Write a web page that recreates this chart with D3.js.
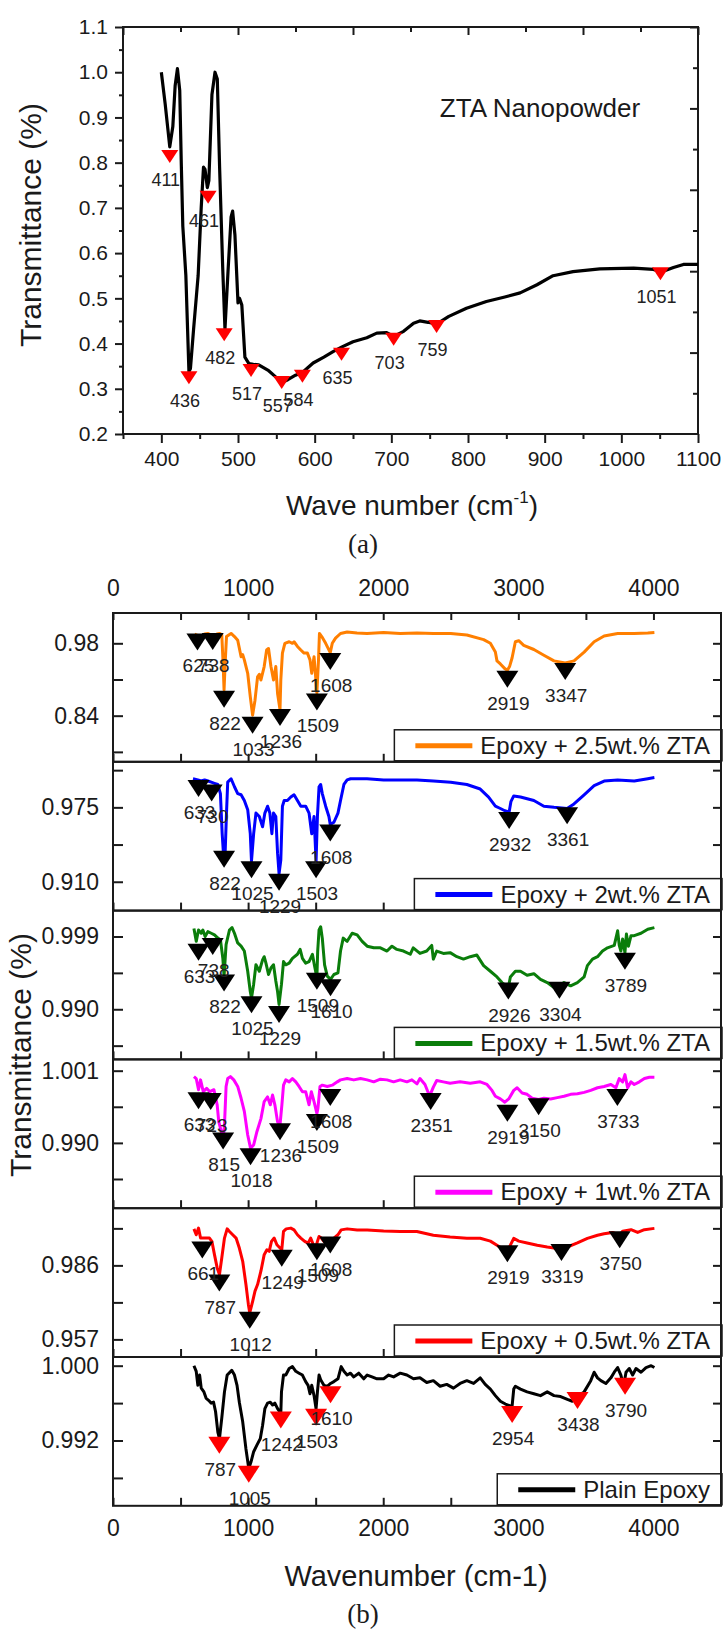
<!DOCTYPE html>
<html>
<head>
<meta charset="utf-8">
<script src="https://cdn.jsdelivr.net/npm/d3@7"></script>
<style>
  body { margin: 0; background: #fff; }
  svg { display: block; }
</style>
</head>
<body>
<svg id="chart" width="726" height="1638"></svg>
<script>
// ---------- (a) ZTA nanopowder FTIR spectrum ----------
const ztaSpectrum = [[400,1.000],[405,0.930],[411,0.835],[415,0.880],[418,0.970],[421,1.008],[424,0.960],[426,0.800],[428,0.660],[432,0.550],[436,0.338],[438,0.345],[442,0.430],[448,0.550],[452,0.700],[455,0.790],[457,0.785],[460,0.745],[462,0.760],[466,0.950],[470,1.000],[473,0.985],[476,0.790],[480,0.570],[483,0.432],[487,0.560],[491,0.680],[493,0.693],[496,0.640],[500,0.490],[502,0.500],[505,0.485],[509,0.370],[514,0.356],[520,0.354],[527,0.353],[540,0.340],[548,0.328],[557,0.314],[565,0.320],[575,0.330],[584,0.336],[598,0.357],[612,0.370],[624,0.382],[635,0.392],[650,0.404],[668,0.413],[681,0.423],[694,0.424],[703,0.416],[716,0.427],[729,0.445],[737,0.450],[748,0.447],[759,0.443],[775,0.460],[798,0.478],[824,0.493],[848,0.503],[868,0.512],[890,0.530],[911,0.550],[937,0.559],[972,0.565],[1016,0.567],[1042,0.564],[1052,0.558],[1068,0.568],[1081,0.575],[1100,0.575]];
const ztaPeaks = [[411,0.828],[436,0.339],[461,0.738],[482,0.434],[517,0.355],[557,0.328],[584,0.342],[635,0.391],[703,0.424],[759,0.452],[1051,0.569]];
const ztaXTicks = [400,500,600,700,800,900,1000,1100];
const ztaXMinor = [350,450,550,650,750,850,950,1050];
const ztaYTicks = [0.2,0.3,0.4,0.5,0.6,0.7,0.8,0.9,1.0,1.1];
const ztaYMinor = [0.25,0.35,0.45,0.55,0.65,0.75,0.85,0.95,1.05];
const ztaTopTicks = [350,500,650,800,950,1100];
const ztaTopMinor = [425,575,725,875,1025];
const ztaRightTicks = [0.38,0.56,0.74,0.92,1.10];
const ztaRightMinor = [0.29,0.47,0.65,0.83,1.01];

// ---------- (b) epoxy composites ----------
const waveTicks = [0,500,1000,1500,2000,2500,3000,3500,4000];

const epoxy25 = [[604,0.998],[628,0.995],[653,0.993],[678,0.998],[702,0.999],[727,0.996],[751,0.994],[770,0.998],[788,0.999],[805,0.997],[815,0.941],[822,0.890],[830,0.941],[840,0.993],[857,0.996],[874,0.999],[899,0.993],[923,0.986],[948,0.954],[960,0.958],[972,0.948],[997,0.922],[1016,0.877],[1033,0.841],[1051,0.870],[1070,0.915],[1083,0.920],[1095,0.909],[1119,0.935],[1137,0.967],[1151,0.970],[1169,0.935],[1188,0.909],[1205,0.935],[1218,0.883],[1236,0.852],[1242,0.909],[1254,0.961],[1272,0.980],[1304,0.983],[1328,0.980],[1340,0.983],[1365,0.974],[1390,0.967],[1414,0.961],[1439,0.961],[1458,0.948],[1471,0.922],[1488,0.954],[1500,0.915],[1509,0.884],[1521,0.948],[1528,0.999],[1545,0.993],[1574,0.980],[1608,0.962],[1623,0.980],[1647,0.990],[1684,0.999],[1733,1.002],[1806,1.000],[1880,0.999],[2003,1.001],[2126,0.999],[2250,1.000],[2371,0.999],[2500,0.999],[2619,0.996],[2743,0.987],[2793,0.980],[2830,0.963],[2842,0.946],[2867,0.940],[2900,0.931],[2919,0.928],[2935,0.935],[2954,0.952],[2978,0.983],[3003,0.985],[3040,0.976],[3115,0.968],[3189,0.957],[3264,0.946],[3347,0.942],[3412,0.946],[3487,0.963],[3561,0.983],[3635,0.994],[3735,0.999],[3858,0.999],[3958,1.000],[4007,1.001]];
const epoxy25Peaks = [[625,0.999],[738,1.000],[822,0.888],[1033,0.838],[1236,0.853],[1509,0.883],[1608,0.961],[2919,0.927],[3347,0.942]];
const epoxy25YTicks = [0.77,0.84,0.91,0.98];
const epoxy25YLabels = [0.84,0.98];

const epoxy2 = [[592,1.000],[628,0.999],[653,0.998],[678,0.999],[703,0.998],[727,0.997],[751,0.996],[776,0.995],[795,0.987],[808,0.952],[820,0.930],[830,0.935],[840,0.970],[849,0.997],[874,1.000],[899,0.993],[923,0.987],[948,0.986],[972,0.981],[997,0.973],[1016,0.952],[1025,0.928],[1041,0.952],[1058,0.970],[1083,0.967],[1107,0.958],[1124,0.970],[1144,0.976],[1161,0.970],[1176,0.952],[1188,0.970],[1205,0.967],[1218,0.935],[1229,0.917],[1242,0.929],[1254,0.976],[1267,0.981],[1291,0.981],[1316,0.984],[1340,0.986],[1365,0.981],[1390,0.976],[1426,0.976],[1451,0.970],[1471,0.952],[1488,0.967],[1503,0.928],[1513,0.967],[1525,0.993],[1537,0.995],[1549,0.987],[1574,0.976],[1598,0.967],[1608,0.960],[1635,0.962],[1665,0.970],[1684,0.981],[1709,0.995],[1733,0.999],[1758,1.000],[1820,1.000],[1880,1.000],[2003,0.999],[2126,0.999],[2250,0.999],[2371,0.998],[2500,0.997],[2619,0.995],[2718,0.991],[2780,0.984],[2830,0.976],[2867,0.974],[2900,0.972],[2932,0.971],[2945,0.980],[2966,0.985],[3016,0.984],[3115,0.981],[3189,0.976],[3264,0.975],[3361,0.974],[3412,0.978],[3487,0.986],[3561,0.994],[3635,0.998],[3735,0.999],[3858,0.998],[3958,1.000],[4007,1.001]];
const epoxy2Peaks = [[633,0.999],[730,0.995],[822,0.937],[1025,0.928],[1229,0.917],[1503,0.928],[1608,0.960],[2932,0.971],[3361,0.975]];
const epoxy2YTicks = [0.910,0.9425,0.975,1.0075];
const epoxy2YLabels = [0.910,0.975];

const epoxy15 = [[599,1.0000],[616,0.9984],[633,0.9998],[653,0.9994],[665,0.9998],[682,0.9990],[702,0.9996],[727,0.9994],[751,0.9992],[776,0.9988],[795,0.9986],[813,0.9963],[822,0.9941],[837,0.9980],[862,0.9998],[881,1.0001],[899,0.9994],[923,0.9982],[948,0.9978],[972,0.9972],[997,0.9947],[1016,0.9922],[1025,0.9914],[1041,0.9931],[1058,0.9955],[1083,0.9947],[1107,0.9961],[1119,0.9965],[1132,0.9957],[1151,0.9943],[1169,0.9951],[1188,0.9955],[1205,0.9935],[1218,0.9922],[1229,0.9906],[1247,0.9931],[1262,0.9959],[1279,0.9955],[1304,0.9957],[1328,0.9963],[1365,0.9968],[1385,0.9974],[1402,0.9963],[1426,0.9957],[1451,0.9959],[1476,0.9968],[1490,0.9955],[1509,0.9939],[1515,0.9972],[1525,0.9998],[1537,1.0002],[1549,0.9988],[1566,0.9955],[1586,0.9941],[1610,0.9937],[1635,0.9943],[1665,0.9945],[1684,0.9972],[1704,0.9988],[1733,0.9984],[1770,0.9994],[1807,0.9992],[1844,0.9984],[1881,0.9978],[1930,0.9976],[1979,0.9976],[2028,0.9972],[2065,0.9978],[2101,0.9974],[2150,0.9972],[2200,0.9968],[2222,0.9976],[2272,0.9969],[2322,0.9972],[2359,0.9979],[2371,0.9962],[2396,0.9972],[2445,0.9969],[2495,0.9970],[2545,0.9965],[2594,0.9962],[2644,0.9965],[2693,0.9967],[2743,0.9954],[2793,0.9947],[2842,0.9940],[2879,0.9933],[2926,0.9927],[2941,0.9940],[2978,0.9947],[3016,0.9947],[3065,0.9942],[3115,0.9944],[3164,0.9937],[3214,0.9933],[3264,0.9927],[3304,0.9929],[3338,0.9933],[3387,0.9929],[3437,0.9933],[3487,0.9940],[3511,0.9954],[3549,0.9962],[3586,0.9965],[3623,0.9972],[3660,0.9976],[3710,0.9979],[3735,0.9997],[3747,0.9979],[3759,0.9972],[3772,0.9987],[3789,0.9970],[3800,0.9993],[3815,0.9978],[3834,0.9991],[3858,0.9991],[3908,0.9994],[3958,0.9999],[4007,1.0001]];
const epoxy15Peaks = [[633,0.9981],[738,0.9988],[822,0.9943],[1025,0.9916],[1229,0.9904],[1509,0.9945],[1610,0.9937],[2926,0.9933],[3304,0.9934],[3789,0.9970]];
const epoxy15YTicks = [0.9855,0.990,0.9945,0.999];
const epoxy15YLabels = [0.990,0.999];

const epoxy1 = [[599,1.0001],[616,0.9998],[633,0.9981],[648,0.9996],[668,0.9978],[693,0.9983],[717,0.9978],[747,0.9981],[771,0.9958],[783,0.9932],[815,0.9907],[825,0.9927],[837,0.9986],[849,0.9998],[869,1.0001],[894,0.9996],[923,0.9986],[948,0.9968],[972,0.9948],[997,0.9912],[1018,0.9892],[1041,0.9897],[1065,0.9917],[1095,0.9937],[1119,0.9963],[1144,0.9970],[1164,0.9958],[1181,0.9973],[1198,0.9958],[1218,0.9932],[1236,0.9927],[1250,0.9958],[1262,0.9988],[1279,0.9996],[1304,0.9993],[1328,0.9998],[1353,0.9993],[1377,0.9986],[1402,0.9978],[1426,0.9978],[1451,0.9958],[1468,0.9978],[1488,0.9963],[1509,0.9945],[1517,0.9953],[1532,0.9986],[1549,0.9988],[1586,0.9986],[1623,0.9988],[1660,0.9993],[1684,0.9996],[1733,0.9998],[1782,0.9996],[1832,0.9998],[1881,0.9996],[1930,0.9993],[1979,0.9997],[2028,0.9996],[2077,0.9993],[2126,0.9996],[2175,0.9993],[2212,0.9996],[2250,0.9990],[2272,0.9998],[2309,0.9989],[2334,0.9976],[2351,0.9975],[2371,0.9985],[2396,0.9995],[2445,0.9993],[2495,0.9991],[2569,0.9993],[2644,0.9991],[2718,0.9993],[2768,0.9989],[2805,0.9980],[2830,0.9971],[2867,0.9967],[2900,0.9962],[2929,0.9967],[2966,0.9980],[2991,0.9984],[3028,0.9976],[3065,0.9974],[3102,0.9968],[3150,0.9966],[3189,0.9968],[3239,0.9967],[3288,0.9969],[3338,0.9971],[3387,0.9974],[3437,0.9975],[3487,0.9977],[3536,0.9980],[3586,0.9984],[3635,0.9986],[3685,0.9989],[3722,0.9984],[3747,0.9998],[3772,0.9993],[3789,1.0004],[3809,0.9984],[3834,0.9993],[3858,0.9989],[3896,0.9993],[3933,0.9998],[3970,1.0000],[4007,1.0000]];
const epoxy1Peaks = [[633,0.9977],[723,0.9976],[815,0.9916],[1018,0.9892],[1236,0.9930],[1509,0.9944],[1608,0.9982],[2351,0.9976],[2919,0.9958],[3150,0.9968],[3733,0.9982]];
const epoxy1YTicks = [0.9845,0.990,0.9955,1.001];
const epoxy1YLabels = [0.990,1.001];

const epoxy05 = [[599,1.0003],[616,0.9980],[633,1.0006],[648,0.9967],[665,0.9967],[690,0.9967],[714,0.9967],[732,0.9954],[751,0.9902],[771,0.9850],[788,0.9824],[805,0.9889],[825,0.9967],[845,1.0003],[862,0.9993],[886,0.9980],[911,0.9967],[935,0.9928],[960,0.9876],[984,0.9785],[1002,0.9707],[1012,0.9674],[1034,0.9720],[1051,0.9759],[1070,0.9785],[1095,0.9838],[1119,0.9902],[1139,0.9921],[1156,0.9915],[1173,0.9954],[1193,0.9967],[1213,0.9941],[1249,0.9921],[1255,0.9954],[1262,0.9993],[1282,1.0003],[1316,1.0006],[1340,0.9999],[1365,0.9980],[1390,0.9967],[1419,0.9954],[1444,0.9947],[1463,0.9967],[1483,0.9941],[1500,0.9928],[1513,0.9954],[1525,0.9973],[1542,0.9967],[1561,0.9954],[1586,0.9947],[1610,0.9954],[1635,0.9967],[1665,0.9980],[1689,0.9999],[1733,1.0003],[1807,0.9999],[1881,0.9999],[2003,0.9995],[2126,0.9993],[2249,0.9993],[2371,0.9978],[2495,0.9971],[2619,0.9966],[2718,0.9966],[2793,0.9955],[2842,0.9939],[2879,0.9926],[2919,0.9917],[2941,0.9939],[2966,0.9966],[3003,0.9955],[3065,0.9948],[3140,0.9939],[3214,0.9932],[3288,0.9926],[3319,0.9921],[3363,0.9932],[3437,0.9948],[3511,0.9966],[3586,0.9978],[3635,0.9984],[3697,0.9989],[3750,0.9978],[3772,0.9994],[3834,1.0000],[3883,0.9989],[3933,1.0000],[4007,1.0005]];
const epoxy05Peaks = [[661,0.9954],[787,0.9824],[1012,0.9678],[1249,0.9921],[1509,0.9947],[1608,0.9973],[2919,0.9939],[3319,0.9944],[3750,0.9994]];
const epoxy05YTicks = [0.957,0.9715,0.986,1.0005];
const epoxy05YLabels = [0.957,0.986];

const plainEpoxy = [[599,1.0000],[616,0.9994],[628,0.9979],[641,0.9990],[653,0.9976],[673,0.9972],[690,0.9965],[707,0.9963],[727,0.9960],[744,0.9961],[759,0.9951],[776,0.9929],[788,0.9922],[805,0.9944],[825,0.9972],[845,0.9990],[879,0.9995],[899,0.9990],[918,0.9979],[935,0.9961],[960,0.9940],[984,0.9911],[1005,0.9890],[1021,0.9897],[1041,0.9908],[1065,0.9915],[1090,0.9922],[1107,0.9936],[1124,0.9954],[1144,0.9960],[1164,0.9961],[1181,0.9958],[1198,0.9960],[1218,0.9954],[1242,0.9949],[1247,0.9972],[1262,0.9990],[1279,0.9990],[1304,0.9997],[1328,0.9999],[1353,0.9994],[1377,0.9992],[1402,0.9990],[1426,0.9983],[1444,0.9979],[1458,0.9970],[1471,0.9979],[1488,0.9968],[1503,0.9954],[1513,0.9972],[1525,0.9990],[1537,0.9985],[1561,0.9979],[1586,0.9978],[1610,0.9981],[1635,0.9983],[1665,0.9986],[1689,0.9999],[1709,0.9994],[1733,0.9990],[1758,0.9992],[1782,0.9988],[1819,0.9992],[1856,0.9986],[1881,0.9990],[1917,0.9988],[1954,0.9986],[2003,0.9986],[2040,0.9990],[2077,0.9988],[2126,0.9992],[2175,0.9990],[2224,0.9986],[2272,0.9987],[2322,0.9982],[2371,0.9984],[2421,0.9978],[2470,0.9980],[2520,0.9976],[2569,0.9981],[2619,0.9984],[2669,0.9981],[2718,0.9987],[2755,0.9980],[2793,0.9975],[2830,0.9968],[2867,0.9962],[2904,0.9959],[2941,0.9957],[2954,0.9957],[2966,0.9975],[2978,0.9978],[3016,0.9975],[3065,0.9972],[3115,0.9970],[3164,0.9968],[3214,0.9972],[3264,0.9968],[3313,0.9967],[3363,0.9964],[3400,0.9962],[3437,0.9967],[3487,0.9972],[3536,0.9984],[3561,0.9993],[3586,0.9987],[3611,0.9984],[3648,0.9981],[3685,0.9987],[3710,0.9993],[3735,0.9998],[3759,0.9990],[3779,0.9978],[3797,0.9993],[3821,0.9997],[3846,0.9990],[3871,0.9997],[3908,0.9993],[3945,0.9998],[3983,1.0000],[4007,0.9998]];
const plainEpoxyPeaks = [[787,0.9924],[1005,0.9893],[1242,0.9951],[1503,0.9954],[1610,0.9978],[2954,0.9957],[3438,0.9972],[3790,0.9987]];
const plainEpoxyYTicks = [0.988,0.992,0.996,1.000];
const plainEpoxyYLabels = [0.992,1.000];

const seriesNames = ["Epoxy + 2.5wt.% ZTA","Epoxy + 2wt.% ZTA","Epoxy + 1.5wt.% ZTA","Epoxy + 1wt.% ZTA","Epoxy + 0.5wt.% ZTA","Plain Epoxy"];
const seriesColors = ["#ff7f00","#0000ff","#0a7d0a","#ff00ff","#ff0000","#000000"];
const peakColors = ["#000000","#000000","#000000","#000000","#000000","#ff0000"];

// ---------- drawing ----------
const FONT = "'Liberation Sans', Arial, Helvetica, sans-serif";
const INK = "#1a1a1a";
const svg = d3.select("#chart");

function tidy(g, fontSize) {
  g.select(".domain").remove();
  g.selectAll(".tick line").attr("stroke", INK).attr("stroke-width", 2);
  g.selectAll("text").attr("font-family", FONT).attr("font-size", fontSize).attr("fill", INK);
  g.attr("font-family", null).attr("font-size", null);
}

function triangle(x, y, w, h) {
  return `M${x - w / 2},${y}L${x + w / 2},${y}L${x},${y + h}Z`;
}

// ===== panel (a) =====
const ax = d3.scaleLinear().domain([350, 1100]).range([123, 698]);
const ay = d3.scaleLinear().domain([0.2, 1.1]).range([434, 27]);
const gA = svg.append("g");

// bottom axis (outward ticks, labelled)
gA.append("g").attr("transform", "translate(0,434)")
  .call(d3.axisBottom(ax).tickValues(ztaXTicks).tickSize(9).tickSizeOuter(0).tickPadding(8).tickFormat(d3.format("d")))
  .call(g => tidy(g, 21));
gA.append("g").attr("transform", "translate(0,434)")
  .call(d3.axisBottom(ax).tickValues(ztaXMinor).tickSize(5).tickSizeOuter(0).tickFormat(""))
  .call(g => tidy(g, 21));
// left axis (outward ticks, labelled)
gA.append("g").attr("transform", "translate(123,0)")
  .call(d3.axisLeft(ay).tickValues(ztaYTicks).tickSize(8).tickSizeOuter(0).tickPadding(7).tickFormat(d3.format(".1f")))
  .call(g => tidy(g, 21));
gA.append("g").attr("transform", "translate(123,0)")
  .call(d3.axisLeft(ay).tickValues(ztaYMinor).tickSize(4).tickSizeOuter(0).tickFormat(""))
  .call(g => tidy(g, 21));
// top axis (inward)
gA.append("g").attr("transform", "translate(0,27)")
  .call(d3.axisTop(ax).tickValues(ztaTopTicks).tickSize(-8).tickSizeOuter(0).tickFormat(""))
  .call(g => tidy(g, 21));
gA.append("g").attr("transform", "translate(0,27)")
  .call(d3.axisTop(ax).tickValues(ztaTopMinor).tickSize(-5).tickSizeOuter(0).tickFormat(""))
  .call(g => tidy(g, 21));
// right axis (inward)
gA.append("g").attr("transform", "translate(698,0)")
  .call(d3.axisRight(ay).tickValues(ztaRightTicks).tickSize(-8).tickSizeOuter(0).tickFormat(""))
  .call(g => tidy(g, 21));
gA.append("g").attr("transform", "translate(698,0)")
  .call(d3.axisRight(ay).tickValues(ztaRightMinor).tickSize(-5).tickSizeOuter(0).tickFormat(""))
  .call(g => tidy(g, 21));

gA.append("rect").attr("x", 123).attr("y", 27).attr("width", 575).attr("height", 407)
  .attr("fill", "none").attr("stroke", INK).attr("stroke-width", 2);

const lineA = d3.line().x(d => ax(d[0])).y(d => ay(d[1]));
gA.append("path").datum(ztaSpectrum).attr("d", lineA)
  .attr("fill", "none").attr("stroke", "#000").attr("stroke-width", 3.2).attr("stroke-linejoin", "round");

gA.selectAll(".pkA").data(ztaPeaks).join("path")
  .attr("d", d => triangle(ax(d[0]), ay(d[1]), 17, 13)).attr("fill", "#ff0000");
gA.selectAll(".pkAL").data(ztaPeaks).join("text")
  .attr("x", d => ax(d[0]) - 4).attr("y", d => ay(d[1]) + 36)
  .attr("text-anchor", "middle").attr("font-family", FONT).attr("font-size", 18).attr("fill", "#222")
  .text(d => d[0]);

gA.append("text").attr("x", 540).attr("y", 117).attr("text-anchor", "middle")
  .attr("font-family", FONT).attr("font-size", 26).attr("fill", INK).text("ZTA Nanopowder");

gA.append("text").attr("transform", "translate(41,225) rotate(-90)").attr("text-anchor", "middle")
  .attr("font-family", FONT).attr("font-size", 30).attr("fill", INK).text("Transmittance (%)");

const xtA = gA.append("text").attr("x", 412).attr("y", 515).attr("text-anchor", "middle")
  .attr("font-family", FONT).attr("font-size", 28).attr("fill", INK);
xtA.append("tspan").text("Wave number (cm");
xtA.append("tspan").attr("font-size", 17).attr("dy", -12).text("-1");
xtA.append("tspan").attr("dy", 12).text(")");

svg.append("text").attr("x", 363).attr("y", 553).attr("text-anchor", "middle")
  .attr("font-family", "'Liberation Serif', 'Times New Roman', serif").attr("font-size", 27).attr("fill", INK).text("(a)");

// ===== panel (b) =====
const bx = d3.scaleLinear().domain([0, 4500]).range([113, 721]);
const panelTop = 613, panelH = 148.8;
const panels = [
  { data: epoxy25, peaks: epoxy25Peaks, ticks: epoxy25YTicks, labels: epoxy25YLabels, domain: [0.7508, 1.0386], fmt: ".2f" },
  { data: epoxy2, peaks: epoxy2Peaks, ticks: epoxy2YTicks, labels: epoxy2YLabels, domain: [0.8848, 1.0148], fmt: ".3f" },
  { data: epoxy15, peaks: epoxy15Peaks, ticks: epoxy15YTicks, labels: epoxy15YLabels, domain: [0.9838, 1.0022], fmt: ".3f" },
  { data: epoxy1, peaks: epoxy1Peaks, ticks: epoxy1YTicks, labels: epoxy1YLabels, domain: [0.98005, 1.00272], fmt: ".3f" },
  { data: epoxy05, peaks: epoxy05Peaks, ticks: epoxy05YTicks, labels: epoxy05YLabels, domain: [0.9501, 1.0084], fmt: ".3f" },
  { data: plainEpoxy, peaks: plainEpoxyPeaks, ticks: plainEpoxyYTicks, labels: plainEpoxyYLabels, domain: [0.98502, 1.00093], fmt: ".3f" }
];

const gB = svg.append("g");
panels.forEach((p, i) => {
  const top = panelTop + i * panelH, bottom = top + panelH;
  const y = d3.scaleLinear().domain(p.domain).range([bottom, top]);
  const g = gB.append("g");
  const f = d3.format(p.fmt);

  // left ticks point inward, labels outside
  g.append("g").attr("transform", `translate(${bx(0)},0)`)
    .call(d3.axisLeft(y).tickValues(p.ticks).tickSize(-10).tickSizeOuter(0).tickPadding(14)
      .tickFormat(d => p.labels.includes(d) ? f(d) : ""))
    .call(a => tidy(a, 23));
  g.append("g").attr("transform", `translate(${bx(4500)},0)`)
    .call(d3.axisRight(y).tickValues(p.ticks).tickSize(-8).tickSizeOuter(0).tickFormat(""))
    .call(a => tidy(a, 23));
  const last = i === panels.length - 1;
  g.append("g").attr("transform", `translate(0,${bottom})`)
    .call(d3.axisBottom(bx).tickValues(waveTicks).tickSize(-8).tickSizeOuter(0).tickPadding(14)
      .tickFormat(d => last && d % 1000 === 0 ? d : ""))
    .call(a => tidy(a, 23));
  if (i === 0) {
    g.append("g").attr("transform", `translate(0,${top})`)
      .call(d3.axisTop(bx).tickValues(waveTicks).tickSize(-7).tickSizeOuter(0).tickPadding(17)
        .tickFormat(d => d % 1000 === 0 ? d : ""))
      .call(a => tidy(a, 23));
  }

  const line = d3.line().x(d => bx(d[0])).y(d => y(d[1]));
  g.append("path").datum(p.data).attr("d", line)
    .attr("fill", "none").attr("stroke", seriesColors[i]).attr("stroke-width", 3).attr("stroke-linejoin", "round");

  g.selectAll(".pk").data(p.peaks).join("path")
    .attr("d", d => triangle(bx(d[0]), y(d[1]), 22, 17)).attr("fill", peakColors[i]);
  g.selectAll(".pkl").data(p.peaks).join("text")
    .attr("x", d => bx(d[0]) + 1).attr("y", d => y(d[1]) + 39)
    .attr("text-anchor", "middle").attr("font-family", FONT).attr("font-size", 19).attr("fill", "#222")
    .text(d => d[0]);

  // legend box in the lower-right corner
  const lg = g.append("g");
  const box = lg.append("rect").attr("fill", "#fff").attr("stroke", INK).attr("stroke-width", 1.5);
  const txt = lg.append("text").attr("x", 710).attr("y", bottom - 8).attr("text-anchor", "end")
    .attr("font-family", FONT).attr("font-size", 24).attr("fill", INK).text(seriesNames[i]);
  const tw = txt.node().getComputedTextLength();
  const ts = 710 - tw;
  box.attr("x", ts - 86).attr("y", bottom - 32).attr("width", 722 - (ts - 86)).attr("height", 31);
  lg.append("line").attr("x1", ts - 65).attr("x2", ts - 8).attr("y1", bottom - 16).attr("y2", bottom - 16)
    .attr("stroke", seriesColors[i]).attr("stroke-width", 5);

  g.append("rect").attr("x", bx(0)).attr("y", top).attr("width", bx(4500) - bx(0)).attr("height", panelH)
    .attr("fill", "none").attr("stroke", INK).attr("stroke-width", 2);
});

gB.append("text").attr("transform", `translate(31,1055) rotate(-90)`).attr("text-anchor", "middle")
  .attr("font-family", FONT).attr("font-size", 30).attr("fill", INK).text("Transmittance (%)");
gB.append("text").attr("x", 416).attr("y", 1586).attr("text-anchor", "middle")
  .attr("font-family", FONT).attr("font-size", 29).attr("fill", INK).text("Wavenumber (cm-1)");
svg.append("text").attr("x", 363).attr("y", 1623).attr("text-anchor", "middle")
  .attr("font-family", "'Liberation Serif', 'Times New Roman', serif").attr("font-size", 27).attr("fill", INK).text("(b)");
</script>
</body>
</html>
